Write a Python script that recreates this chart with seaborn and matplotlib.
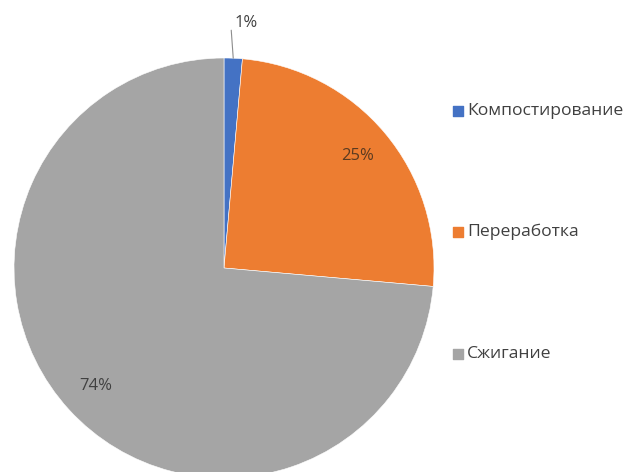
import numpy as np
import seaborn as sns
import matplotlib.pyplot as plt

sns.set_theme(style="white")
plt.rcParams["font.family"] = ["Open Sans", "DejaVu Sans"]

categories = ["Компостирование", "Переработка", "Сжигание"]
values = [1.4, 25.0, 73.6]
colors = ["#4472C4", "#ED7D31", "#A5A5A5"]

W, H = 623, 472
fig = plt.figure(figsize=(W / 100, H / 100), dpi=100)
ax = fig.add_axes([0, 0, 1, 1])

cx, cy, r = 224, H - 268, 210
wedges, texts = ax.pie(values, colors=colors, startangle=90, counterclock=False,
                       center=(cx, cy), radius=r, frame=True,
                       wedgeprops=dict(linewidth=0.4, edgecolor="white"))
ax.set_xlim(0, W)
ax.set_ylim(0, H)
ax.set_aspect("equal")
ax.axis("off")

total = sum(values)
for i, (w, v) in enumerate(zip(wedges, values)):
    ang = np.deg2rad((w.theta1 + w.theta2) / 2)
    pct = f"{v / total * 100:.0f}%"
    if v / total < 0.05:
        # small slice: label outside with a leader line
        x0, y0 = cx + r * np.cos(ang), cy + r * np.sin(ang)
        tx, ty = x0 + 13, y0 + 35
        ax.plot([x0, x0 - 2], [y0, y0 + 28], color="#8c8c8c", lw=0.8)
        ax.text(tx, ty, pct, ha="center", va="center", fontsize=12, color="#404040")
    else:
        d = 0.83 * r
        ax.text(cx + d * np.cos(ang), cy + d * np.sin(ang), pct,
                ha="center", va="center", fontsize=12,
                color="#5a3a20" if i == 1 else "#404040")

# legend on the right, spread out like the original
leg_y = [111, 232, 354]
for name, c, y in zip(categories, colors, leg_y):
    ax.scatter([458], [H - y], marker="s", s=42, color=c)
    ax.text(467, H - y, name, ha="left", va="center", fontsize=12.6, color="#404040")

fig.savefig("out.png", dpi=100)
